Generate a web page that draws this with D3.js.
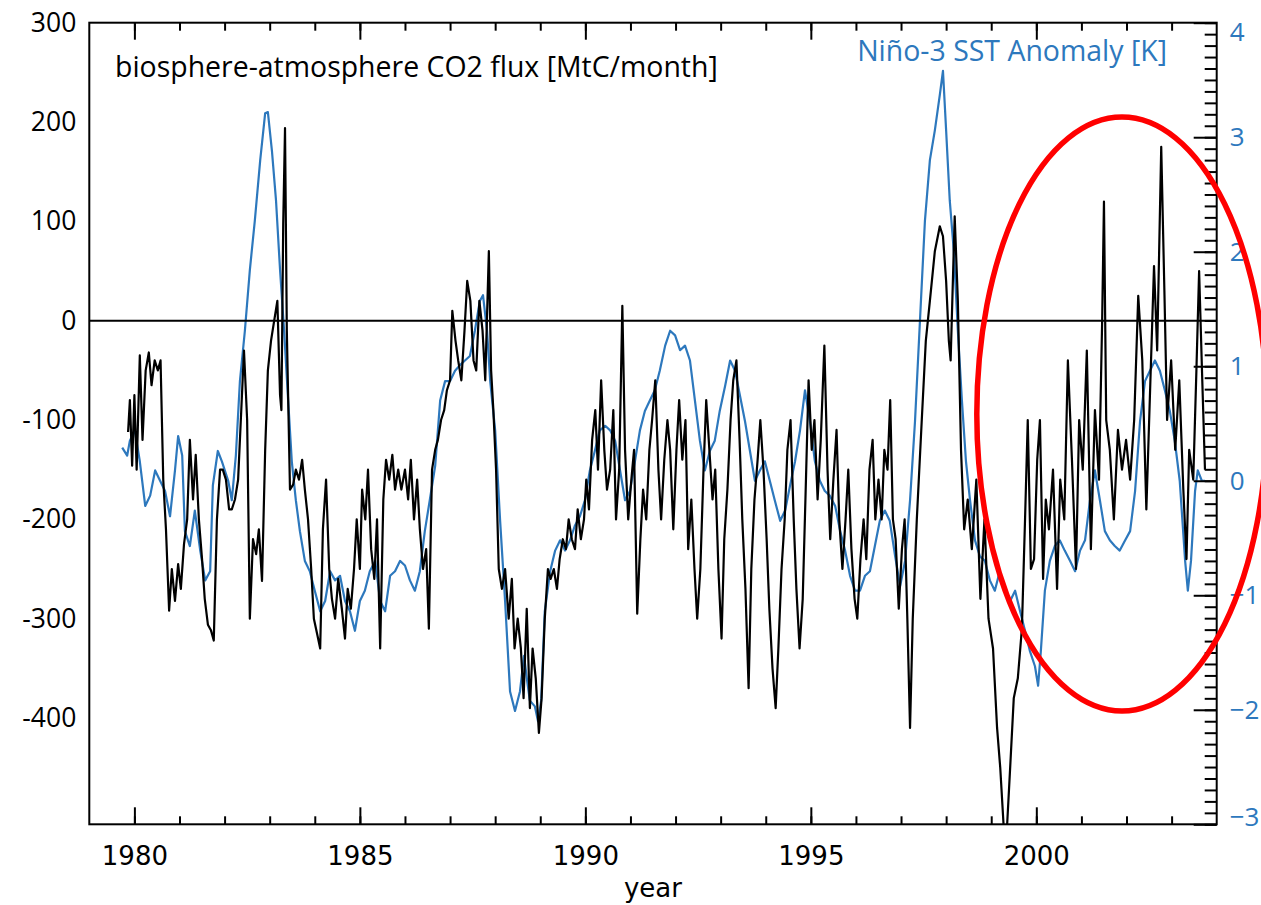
<!DOCTYPE html>
<html>
<head>
<meta charset="utf-8">
<script src="https://cdn.jsdelivr.net/npm/d3@7"></script>
<style>
  body { margin: 0; background: #fff; }
  svg { display: block; }
</style>
</head>
<body>
<svg id="chart" width="1261" height="905"></svg>
<script>
// Monthly biosphere-atmosphere CO2 flux [MtC/month]: [decimal year, value]
const fluxPoints = [
  [1979.86,-112],[1979.90,-80],[1979.95,-146],[1980.00,-75],[1980.05,-150],[1980.12,-35],[1980.18,-120],[1980.25,-50],
  [1980.32,-32],[1980.38,-65],[1980.45,-40],[1980.52,-50],[1980.58,-40],[1980.64,-160],[1980.70,-210],[1980.77,-292],
  [1980.83,-250],[1980.90,-282],[1980.97,-245],[1981.03,-270],[1981.10,-225],[1981.17,-200],[1981.23,-120],[1981.30,-180],
  [1981.36,-135],[1981.43,-200],[1981.50,-240],[1981.56,-280],[1981.63,-306],[1981.70,-312],[1981.76,-322],[1981.83,-200],
  [1981.90,-150],[1981.96,-150],[1982.03,-160],[1982.10,-190],[1982.16,-190],[1982.23,-180],[1982.30,-160],[1982.36,-100],
  [1982.43,-30],[1982.50,-100],[1982.56,-300],[1982.63,-220],[1982.70,-235],[1982.76,-210],[1982.83,-262],[1982.90,-130],
  [1982.96,-50],[1983.03,-20],[1983.10,0],[1983.17,20],[1983.23,-75],[1983.26,-90],[1983.30,97],[1983.34,194],
  [1983.38,-10],[1983.45,-170],[1983.52,-165],[1983.58,-150],[1983.65,-160],[1983.72,-140],[1983.78,-170],[1983.85,-200],
  [1983.92,-250],[1983.98,-300],[1984.05,-315],[1984.12,-330],[1984.18,-210],[1984.25,-160],[1984.32,-250],[1984.38,-280],
  [1984.45,-300],[1984.52,-260],[1984.60,-290],[1984.67,-320],[1984.73,-270],[1984.80,-290],[1984.87,-250],[1984.93,-200],
  [1985.00,-250],[1985.05,-170],[1985.12,-200],[1985.18,-150],[1985.25,-230],[1985.32,-260],[1985.38,-200],[1985.45,-330],
  [1985.52,-180],[1985.58,-140],[1985.65,-160],[1985.72,-135],[1985.78,-170],[1985.85,-150],[1985.92,-170],[1986.00,-150],
  [1986.07,-180],[1986.13,-140],[1986.20,-200],[1986.27,-160],[1986.33,-210],[1986.40,-250],[1986.47,-230],[1986.53,-310],
  [1986.60,-150],[1986.67,-130],[1986.73,-120],[1986.80,-100],[1986.87,-90],[1986.93,-70],[1987.00,-60],[1987.05,10],
  [1987.12,-20],[1987.18,-40],[1987.25,-60],[1987.32,-10],[1987.38,40],[1987.45,20],[1987.52,-40],[1987.58,-50],
  [1987.65,20],[1987.72,-10],[1987.78,-60],[1987.86,70],[1987.91,-50],[1987.96,-90],[1988.02,-150],[1988.08,-250],
  [1988.15,-270],[1988.22,-250],[1988.30,-300],[1988.37,-260],[1988.43,-330],[1988.50,-300],[1988.57,-330],[1988.63,-380],
  [1988.70,-290],[1988.77,-390],[1988.83,-330],[1988.90,-360],[1988.97,-415],[1989.03,-380],[1989.10,-300],[1989.17,-250],
  [1989.23,-260],[1989.30,-250],[1989.37,-270],[1989.43,-240],[1989.50,-220],[1989.57,-230],[1989.63,-200],[1989.70,-220],
  [1989.77,-230],[1989.83,-190],[1989.90,-220],[1989.97,-200],[1990.02,-160],[1990.08,-190],[1990.15,-120],[1990.22,-90],
  [1990.28,-150],[1990.35,-60],[1990.42,-130],[1990.48,-170],[1990.55,-150],[1990.62,-90],[1990.68,-200],[1990.75,-150],
  [1990.82,15],[1990.88,-130],[1990.95,-200],[1991.02,-160],[1991.08,-130],[1991.15,-295],[1991.22,-220],[1991.28,-170],
  [1991.35,-200],[1991.42,-130],[1991.48,-100],[1991.55,-60],[1991.62,-150],[1991.68,-200],[1991.75,-140],[1991.82,-100],
  [1991.88,-130],[1991.95,-210],[1992.02,-130],[1992.08,-80],[1992.15,-140],[1992.22,-100],[1992.28,-230],[1992.35,-180],
  [1992.42,-250],[1992.48,-300],[1992.55,-250],[1992.62,-150],[1992.68,-80],[1992.75,-130],[1992.82,-180],[1992.88,-150],
  [1992.95,-250],[1993.02,-320],[1993.08,-220],[1993.15,-170],[1993.22,-100],[1993.28,-60],[1993.35,-40],[1993.42,-120],
  [1993.48,-200],[1993.55,-270],[1993.62,-370],[1993.68,-250],[1993.75,-180],[1993.82,-140],[1993.88,-100],[1993.95,-150],
  [1994.02,-220],[1994.08,-290],[1994.15,-350],[1994.22,-390],[1994.28,-330],[1994.35,-250],[1994.42,-200],[1994.48,-130],
  [1994.55,-100],[1994.62,-200],[1994.68,-270],[1994.75,-330],[1994.82,-280],[1994.88,-180],[1994.95,-60],[1995.02,-130],
  [1995.08,-100],[1995.15,-180],[1995.22,-120],[1995.30,-25],[1995.37,-150],[1995.43,-220],[1995.50,-160],[1995.57,-110],
  [1995.63,-200],[1995.70,-250],[1995.77,-200],[1995.83,-150],[1995.90,-230],[1995.97,-280],[1996.03,-300],[1996.10,-240],
  [1996.17,-200],[1996.23,-240],[1996.30,-150],[1996.37,-120],[1996.43,-200],[1996.50,-160],[1996.57,-200],[1996.63,-130],
  [1996.70,-150],[1996.76,-80],[1996.82,-200],[1996.88,-220],[1996.95,-290],[1997.02,-230],[1997.08,-200],[1997.14,-300],
  [1997.20,-410],[1997.26,-300],[1997.35,-200],[1997.46,-100],[1997.55,-20],[1997.64,20],[1997.75,70],[1997.86,95],
  [1997.93,85],[1998.00,40],[1998.06,-20],[1998.10,-40],[1998.19,105],[1998.26,20],[1998.33,-130],[1998.40,-210],
  [1998.48,-180],[1998.57,-230],[1998.67,-160],[1998.76,-280],[1998.85,-200],[1998.94,-300],[1999.04,-330],[1999.13,-410],
  [1999.20,-450],[1999.29,-520],[1999.35,-510],[1999.42,-450],[1999.50,-380],[1999.59,-360],[1999.68,-310],[1999.75,-200],
  [1999.81,-100],[1999.88,-250],[1999.95,-240],[2000.02,-140],[2000.08,-100],[2000.15,-260],[2000.21,-180],[2000.28,-210],
  [2000.37,-150],[2000.46,-270],[2000.53,-160],[2000.62,-200],[2000.70,-40],[2000.79,-140],[2000.88,-250],[2000.95,-100],
  [2001.03,-150],[2001.12,-30],[2001.21,-230],[2001.30,-90],[2001.39,-160],[2001.46,0],[2001.50,120],[2001.55,-100],
  [2001.63,-130],[2001.72,-200],[2001.81,-110],[2001.90,-150],[2001.99,-120],[2002.08,-160],[2002.17,-100],[2002.26,25],
  [2002.35,-40],[2002.44,-190],[2002.53,-60],[2002.61,55],[2002.68,-30],[2002.77,175],[2002.84,30],[2002.90,-100],
  [2002.99,-40],[2003.08,-130],[2003.17,-60],[2003.26,-170],[2003.33,-240],[2003.39,-130],[2003.48,-160],[2003.55,-50],
  [2003.61,50],[2003.68,-60],[2003.74,-150]
];

// Monthly Niño-3 sea surface temperature anomaly [K]: [decimal year, value]
const ninoPoints = [
  [1979.73,0.29],[1979.84,0.22],[1979.90,0.35],[1980.01,0.44],[1980.12,0.17],[1980.24,-0.22],[1980.35,-0.13],[1980.46,0.09],
  [1980.57,0],[1980.68,-0.09],[1980.79,-0.31],[1980.90,0.09],[1980.97,0.39],[1981.06,0.22],[1981.12,-0.44],[1981.23,-0.57],
  [1981.34,-0.26],[1981.46,-0.61],[1981.57,-0.87],[1981.68,-0.79],[1981.74,-0.04],[1981.85,0.26],[1981.94,0.17],[1982.08,0],
  [1982.16,-0.17],[1982.25,0.22],[1982.34,0.87],[1982.45,1.31],[1982.56,1.84],[1982.67,2.27],[1982.79,2.80],[1982.90,3.21],
  [1982.96,3.22],[1983.05,2.88],[1983.14,2.45],[1983.23,1.84],[1983.32,1.31],[1983.41,0.70],[1983.49,0.17],[1983.58,-0.17],
  [1983.67,-0.44],[1983.78,-0.70],[1983.89,-0.79],[1984.00,-0.96],[1984.12,-1.14],[1984.23,-1.05],[1984.34,-0.79],[1984.45,-0.87],
  [1984.56,-0.83],[1984.67,-1.05],[1984.78,-1.14],[1984.89,-1.31],[1985.00,-1.05],[1985.11,-0.96],[1985.22,-0.79],[1985.34,-0.70],
  [1985.45,-1.05],[1985.56,-1.14],[1985.67,-0.83],[1985.78,-0.79],[1985.89,-0.70],[1986.00,-0.74],[1986.11,-0.87],[1986.22,-0.96],
  [1986.33,-0.79],[1986.44,-0.44],[1986.55,-0.17],[1986.67,0.13],[1986.78,0.70],[1986.89,0.87],[1987.00,0.87],[1987.11,0.96],
  [1987.22,1.01],[1987.33,1.05],[1987.44,1.09],[1987.55,1.31],[1987.66,1.57],[1987.73,1.62],[1987.82,1.31],[1987.89,0.87],
  [1988.00,0.44],[1988.11,-0.35],[1988.22,-1.05],[1988.33,-1.84],[1988.44,-2.01],[1988.55,-1.84],[1988.64,-1.53],[1988.71,-1.75],
  [1988.77,-1.92],[1988.88,-1.97],[1988.95,-2.10],[1989.02,-1.92],[1989.10,-1.14],[1989.22,-0.79],[1989.33,-0.61],[1989.44,-0.52],
  [1989.55,-0.61],[1989.66,-0.52],[1989.77,-0.39],[1989.88,-0.31],[1989.99,-0.17],[1990.10,0.09],[1990.21,0.26],[1990.32,0.44],
  [1990.44,0.48],[1990.55,0.44],[1990.66,0.35],[1990.77,0.09],[1990.88,-0.17],[1990.99,-0.09],[1991.10,0.17],[1991.21,0.44],
  [1991.32,0.61],[1991.43,0.70],[1991.54,0.79],[1991.65,0.96],[1991.77,1.18],[1991.88,1.31],[1991.99,1.27],[1992.10,1.14],
  [1992.21,1.18],[1992.32,1.05],[1992.43,0.70],[1992.54,0.35],[1992.65,0.09],[1992.76,0.26],[1992.87,0.35],[1992.98,0.61],
  [1993.10,0.83],[1993.21,1.05],[1993.32,0.96],[1993.43,0.74],[1993.54,0.52],[1993.65,0.26],[1993.76,0],[1993.87,0.09],
  [1993.98,0.17],[1994.09,0],[1994.20,-0.17],[1994.32,-0.35],[1994.43,-0.26],[1994.54,-0.04],[1994.65,0.17],[1994.76,0.44],
  [1994.87,0.79],[1994.98,0.52],[1995.09,0.17],[1995.20,0],[1995.31,-0.09],[1995.42,-0.13],[1995.54,-0.22],[1995.65,-0.44],
  [1995.76,-0.61],[1995.87,-0.83],[1995.98,-0.96],[1996.09,-0.96],[1996.20,-0.83],[1996.31,-0.79],[1996.42,-0.57],[1996.53,-0.35],
  [1996.64,-0.26],[1996.75,-0.35],[1996.87,-0.66],[1996.98,-0.92],[1997.09,-0.70],[1997.20,-0.17],[1997.31,0.52],[1997.42,1.40],
  [1997.53,2.27],[1997.64,2.80],[1997.75,3.06],[1997.86,3.37],[1997.93,3.58],[1998.00,3.06],[1998.08,2.45],[1998.17,2.01],
  [1998.26,1.31],[1998.35,0.70],[1998.44,0.17],[1998.53,-0.17],[1998.64,-0.52],[1998.75,-0.66],[1998.86,-0.70],[1998.97,-0.87],
  [1999.08,-0.96],[1999.19,-0.79],[1999.30,-0.96],[1999.42,-1.05],[1999.53,-0.96],[1999.64,-1.14],[1999.75,-1.31],[1999.86,-1.49],
  [1999.97,-1.62],[2000.04,-1.79],[2000.10,-1.49],[2000.19,-0.96],[2000.30,-0.70],[2000.41,-0.57],[2000.52,-0.52],[2000.63,-0.61],
  [2000.75,-0.70],[2000.86,-0.79],[2000.97,-0.61],[2001.08,-0.52],[2001.19,-0.17],[2001.30,0.09],[2001.41,-0.17],[2001.52,-0.44],
  [2001.63,-0.52],[2001.74,-0.57],[2001.85,-0.61],[2001.97,-0.52],[2002.08,-0.44],[2002.19,-0.09],[2002.30,0.52],[2002.41,0.87],
  [2002.52,0.96],[2002.63,1.05],[2002.74,0.96],[2002.85,0.79],[2002.96,0.61],[2003.07,0.35],[2003.18,0],[2003.30,-0.70],
  [2003.36,-0.96],[2003.43,-0.70],[2003.52,-0.09],[2003.58,0.09],[2003.67,0],[2003.74,0]
];

// Axis ranges and tick values
const yearDomain = [1979, 2004];
const fluxDomain = [-507, 300];
const ninoDomain = [-3, 4];
const yearMajorTicks = [1980, 1985, 1990, 1995, 2000];
const yearMinorTicks = d3.range(1980, 2004);
const fluxTicks = [300, 200, 100, 0, -100, -200, -300, -400];
const ninoMajorTicks = [4, 3, 2, 1, 0, -1, -2, -3];
const ninoMinorTicks = d3.range(-30, 41).map(d => d / 10);

// Labels
const fluxTitle = "biosphere-atmosphere CO2 flux [MtC/month]";
const ninoTitle = "Niño-3 SST Anomaly [K]";
const xTitle = "year";

// Highlighted period (ellipse): centre year / flux, half-width in years, half-height in flux units
const highlight = { year: 2001.9, flux: -94, halfYears: 3.22, halfFlux: 299 };

const BLUE = "#2d78bd";
const svg = d3.select("#chart");
const box = { left: 89.3, right: 1216.7, top: 22.7, bottom: 824.3 };

const x = d3.scaleLinear().domain(yearDomain).range([box.left, box.right]);
const yFlux = d3.scaleLinear().domain(fluxDomain).range([box.bottom, box.top]);
const yNino = d3.scaleLinear().domain(ninoDomain).range([box.bottom, box.top]);

svg.append("defs").append("clipPath").attr("id", "plotClip")
  .append("rect")
  .attr("x", box.left).attr("y", box.top)
  .attr("width", box.right - box.left).attr("height", box.bottom - box.top);

// Data lines
const plot = svg.append("g").attr("clip-path", "url(#plotClip)");

plot.append("path")
  .datum(ninoPoints)
  .attr("fill", "none")
  .attr("stroke", BLUE)
  .attr("stroke-width", 2.2)
  .attr("stroke-linejoin", "round")
  .attr("d", d3.line().x(d => x(d[0])).y(d => yNino(d[1])));

plot.append("path")
  .datum(fluxPoints)
  .attr("fill", "none")
  .attr("stroke", "#000")
  .attr("stroke-width", 2.2)
  .attr("stroke-linejoin", "round")
  .attr("d", d3.line().x(d => x(d[0])).y(d => yFlux(d[1])));

// Zero line of the flux axis
svg.append("line")
  .attr("x1", x(yearDomain[0])).attr("x2", x(yearDomain[1]))
  .attr("y1", yFlux(0)).attr("y2", yFlux(0))
  .attr("stroke", "#000").attr("stroke-width", 2);

// Tick marks helper
function ticks(axis, transform, color) {
  const g = svg.append("g").attr("transform", transform).call(axis);
  g.select(".domain").remove();
  g.selectAll("line").attr("stroke", color).attr("stroke-width", 2);
  g.selectAll("text").remove();
  return g;
}

// Bottom and top year ticks (pointing inward)
ticks(d3.axisTop(x).tickValues(yearMinorTicks).tickSize(8), `translate(0,${box.bottom})`, "#000");
ticks(d3.axisTop(x).tickValues(yearMajorTicks).tickSize(17), `translate(0,${box.bottom})`, "#000");
ticks(d3.axisBottom(x).tickValues(yearMinorTicks).tickSize(8), `translate(0,${box.top})`, "#000");
ticks(d3.axisBottom(x).tickValues(yearMajorTicks).tickSize(17), `translate(0,${box.top})`, "#000");

// Right Niño-3 ticks (pointing inward)
ticks(d3.axisLeft(yNino).tickValues(ninoMinorTicks).tickSize(12), `translate(${box.right},0)`, "#000");
ticks(d3.axisLeft(yNino).tickValues(ninoMajorTicks).tickSize(23), `translate(${box.right},0)`, "#000");

// Frame
svg.append("rect")
  .attr("x", box.left).attr("y", box.top)
  .attr("width", box.right - box.left).attr("height", box.bottom - box.top)
  .attr("fill", "none").attr("stroke", "#000").attr("stroke-width", 2);

// Year labels
const xLab = svg.append("g")
  .attr("transform", `translate(0,${box.bottom})`)
  .call(d3.axisBottom(x).tickValues(yearMajorTicks).tickSize(0).tickPadding(22).tickFormat(d3.format("d")));
xLab.select(".domain").remove();
xLab.selectAll("text")
  .attr("fill", "#000")
  .style("font-family", "'DejaVu Sans', sans-serif")
  .style("font-size", "26px");

// Flux labels on the left
const yLab = svg.append("g")
  .attr("transform", `translate(${box.left},0)`)
  .call(d3.axisLeft(yFlux).tickValues(fluxTicks).tickSize(0).tickPadding(13).tickFormat(d => String(d)));
yLab.select(".domain").remove();
yLab.selectAll("text")
  .attr("fill", "#000")
  .style("font-family", "'Open Sans', sans-serif")
  .style("font-size", "26.5px");

// Niño-3 labels on the right, nudged so the end labels stay within the frame
const rLab = svg.append("g")
  .attr("transform", `translate(${box.right},0)`)
  .call(d3.axisRight(yNino).tickValues(ninoMajorTicks).tickSize(0).tickPadding(13).tickFormat(d3.format("d")));
rLab.select(".domain").remove();
rLab.selectAll("text")
  .attr("fill", BLUE)
  .style("font-family", "'Open Sans', sans-serif")
  .style("font-size", "26px")
  .each(function () {
    const b = this.getBBox();
    const tr = this.parentNode.getAttribute("transform");
    const ty = +tr.match(/,\s*([-\d.]+)/)[1];
    const top = ty + b.y + 10, bottom = ty + b.y + b.height - 10;
    let shift = 0;
    if (top < box.top) shift = box.top - top;
    if (bottom > box.bottom) shift = box.bottom - bottom;
    d3.select(this).attr("y", +d3.select(this).attr("y") + shift);
  });

// Titles inside the frame
function fitText(sel, targetWidth, baseSize) {
  sel.style("font-size", baseSize + "px");
  const w = sel.node().getComputedTextLength();
  sel.style("font-size", (baseSize * targetWidth / w) + "px");
}

const t1 = svg.append("text")
  .attr("x", 115).attr("y", 77)
  .attr("fill", "#000")
  .style("font-family", "'Open Sans', sans-serif")
  .text(fluxTitle);
fitText(t1, 603, 26);

const t2 = svg.append("text")
  .attr("x", 1167).attr("y", 61)
  .attr("text-anchor", "end")
  .attr("fill", BLUE)
  .style("font-family", "'Open Sans', sans-serif")
  .text(ninoTitle);
fitText(t2, 310, 24);

svg.append("text")
  .attr("x", (box.left + box.right) / 2).attr("y", 897)
  .attr("text-anchor", "middle")
  .attr("fill", "#000")
  .style("font-family", "'DejaVu Sans', sans-serif")
  .style("font-size", "26px")
  .text(xTitle);

// Red ellipse around the most recent years
svg.append("ellipse")
  .attr("cx", x(highlight.year))
  .attr("cy", yFlux(highlight.flux))
  .attr("rx", x(highlight.year + highlight.halfYears) - x(highlight.year))
  .attr("ry", yFlux(highlight.flux - highlight.halfFlux) - yFlux(highlight.flux))
  .attr("fill", "none")
  .attr("stroke", "#ff0000")
  .attr("stroke-width", 5.5);
</script>
</body>
</html>
